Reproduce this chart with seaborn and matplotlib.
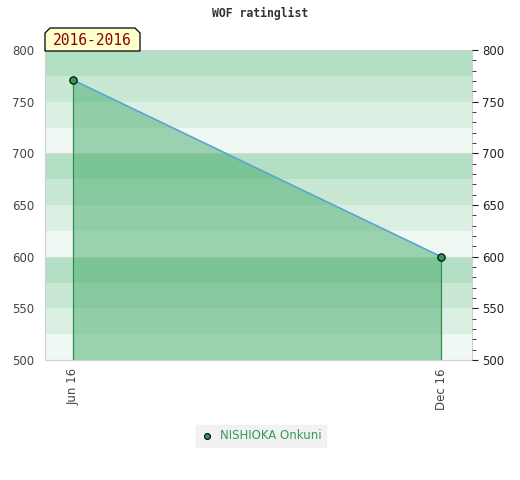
import numpy as np
import pandas as pd
import matplotlib
matplotlib.use('Agg')
import matplotlib.pyplot as plt
import seaborn as sns
from matplotlib.patches import Polygon

dates = ['Jun 16', 'Dec 16']
ratings = [771, 600]
player = 'NISHIOKA Onkuni'
period = '2016-2016'

df = pd.DataFrame({'pos': [0, 1], 'rating': ratings, 'date': dates})

sns.set_style('white')
plt.rcParams['font.family'] = ['DejaVu Sans']

fig = plt.figure(figsize=(5.2, 4.8), dpi=100)
ax = fig.add_axes([45 / 520, 120 / 480, 427 / 520, 310 / 480])

# background bands, repeating every 100 points
band_cols = ['#b3dfc4', '#c9e8d4', '#dcefe3', '#eff8f3']
for lo in range(500, 800, 25):
    idx = ((800 - lo) // 25 - 1) % 4
    ax.axhspan(lo, lo + 25, color=band_cols[idx], lw=0, zorder=0)
for y in range(500, 801, 100):
    ax.axhline(y, color='#d8d8d8', lw=0.8, zorder=0.5)

ax.fill_between(df['pos'], df['rating'], 500, color='#3fa865', alpha=0.48, lw=0, zorder=1)
ax.vlines(df['pos'], 500, df['rating'], color='#2f8f4f', lw=0.9, zorder=2)
sns.lineplot(data=df, x='pos', y='rating', ax=ax, color='#5ba3d6', lw=1.2, zorder=3, legend=False)
sns.scatterplot(data=df, x='pos', y='rating', ax=ax, color='#2e9e57', edgecolor='black',
                linewidth=0.8, s=28, zorder=4, label=player, legend=False)

ax.set_xlim(-0.076, 1.084)
ax.set_ylim(500, 800)
ax.set_xticks(df['pos'])
ax.set_xticklabels(dates, rotation=90, color='#444444', fontsize=8.5)
ax.set_yticks(range(500, 801, 50))
ax.tick_params(axis='y', length=0, labelsize=8.5, labelcolor='#444444', pad=8)
ax.tick_params(axis='x', length=0, pad=6)
ax.set_xlabel('')
ax.set_ylabel('')
for s in ax.spines.values():
    s.set_color('#d0d0d0')
    s.set_linewidth(0.8)

ax2 = ax.twinx()
ax2.set_ylim(500, 800)
ax2.set_yticks(range(500, 801, 50))
ax2.set_yticks(range(500, 801, 10), minor=True)
ax2.tick_params(axis='y', which='major', length=4, labelsize=8.5, labelcolor='#222222', color='#222222')
ax2.tick_params(axis='y', which='minor', length=3, color='#222222')
for s in ax2.spines.values():
    s.set_visible(False)

fig.text(0.5, 0.972, 'WOF ratinglist', ha='center', va='center', fontsize=8.3,
         fontweight='bold', family='DejaVu Sans Mono', color='#333333')

# period label box
x0, x1 = 45 / 520, 140 / 520
y0, y1 = (480 - 51) / 480, (480 - 28) / 480
c = 5 / 520
cy = 5 / 480
box = Polygon([[x0, y0], [x0, y1 - cy], [x0 + c, y1], [x1 - c, y1], [x1, y1 - cy], [x1, y0]],
              closed=True, transform=fig.transFigure, facecolor='#ffffcc', edgecolor='black',
              lw=0.9, zorder=5)
fig.patches.append(box)
fig.text((x0 + x1) / 2, (y0 + y1) / 2 - 0.002, period, ha='center', va='center', fontsize=10.5,
         family='DejaVu Sans Mono', color='#8b0000', zorder=6)

leg = fig.legend(loc='center', bbox_to_anchor=(0.502, 0.092), frameon=True, fontsize=8.5,
                 handletextpad=0.6, borderpad=0.4, handlelength=1.0, fancybox=False,
                 markerscale=0.8)
leg.get_frame().set_facecolor('#efefef')
leg.get_frame().set_edgecolor('#efefef')
for t in leg.get_texts():
    t.set_color('#2e9e57')

fig.savefig('out.png', dpi=100)
